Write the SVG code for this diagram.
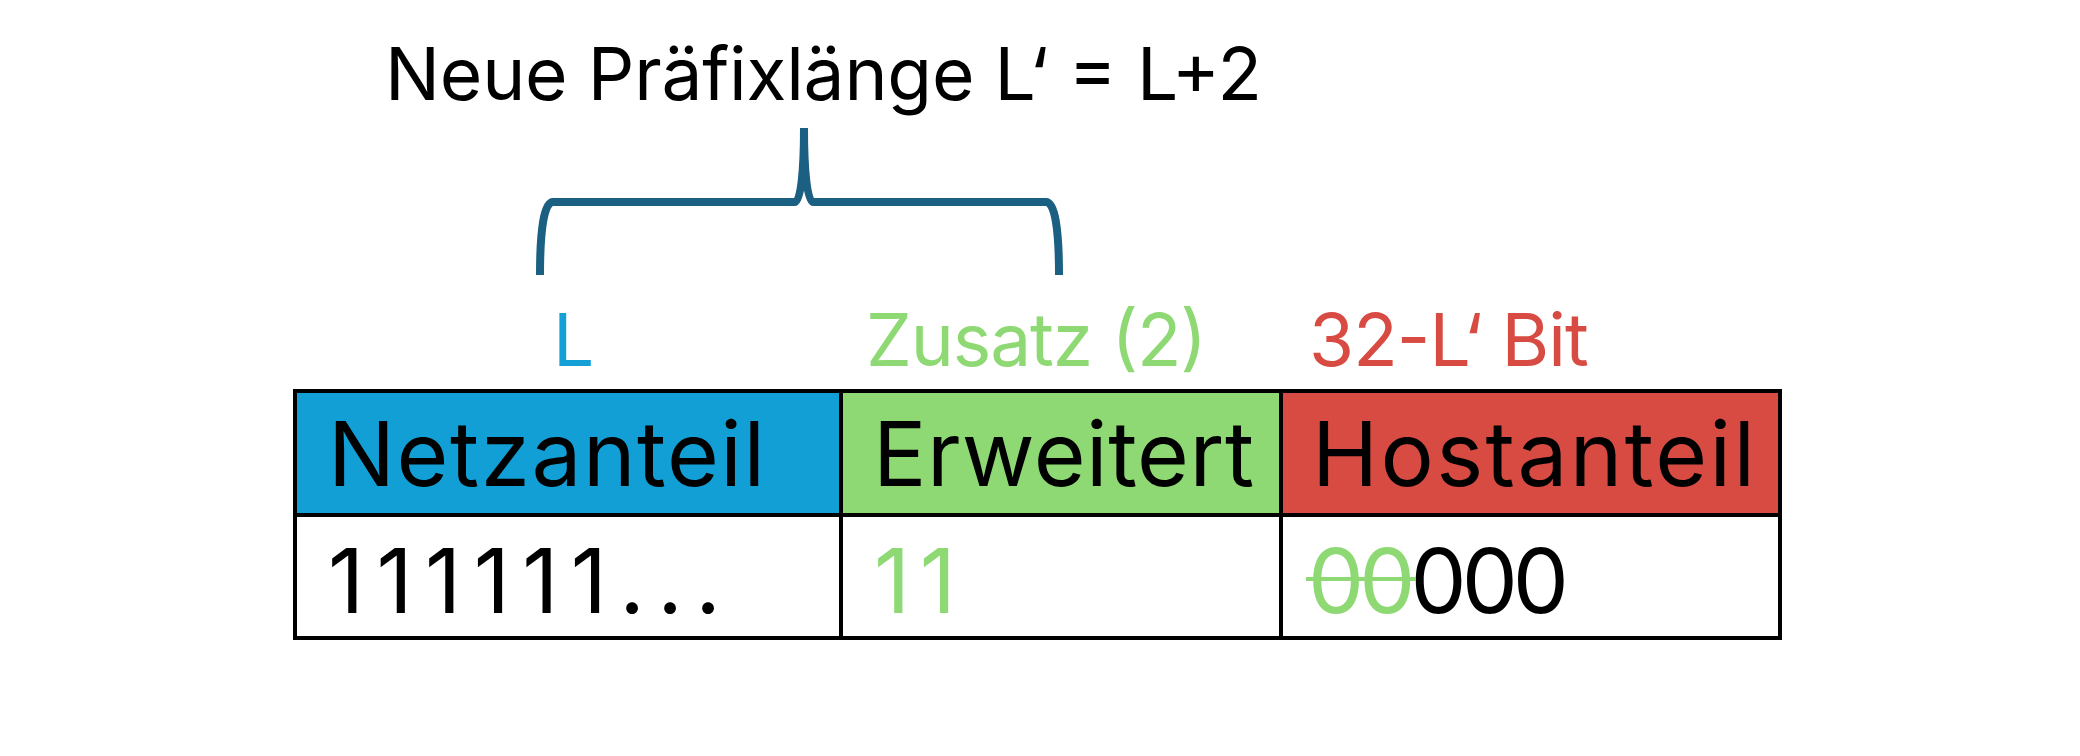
<svg xmlns="http://www.w3.org/2000/svg" width="2080" height="756" viewBox="0 0 2080 756">
<style>
.t{font-family:Inter,"Liberation Sans",sans-serif;}
.lbl{font-size:73px;}
.big{font-size:89px;}
.brace{fill:none;stroke:#1B5F82;stroke-width:8;stroke-linecap:butt;stroke-linejoin:round;}
.cell{stroke:#000;stroke-width:4;}
</style>
<rect width="2080" height="756" fill="#fff"/>
<g id="title">
<text class="t lbl" x="385" y="100" fill="#000" textLength="877" lengthAdjust="spacing">Neue Präfixlänge L‘ = L+2</text>
</g>
<g id="connectors">
<path class="brace" d="M540,275 C540,230 544,202 553,202 L795,202 C801,202 804,170 804,128"/>
<path class="brace" d="M1059,275 C1059,230 1055,202 1046,202 L813,202 C807,202 804,170 804,128"/>
</g>
<g id="labels">
<text class="t lbl" x="553" y="366" fill="#149FD6">L</text>
<text class="t lbl" x="866" y="366" fill="#8ED973" textLength="341" lengthAdjust="spacing">Zusatz (2)</text>
<text class="t lbl" x="1309" y="366" fill="#D84B42" textLength="280" lengthAdjust="spacing">32-L‘ Bit</text>
</g>
<g id="netzanteil">
<rect class="cell" x="295" y="391" width="546" height="124" fill="#129FD6"/>
<text class="t big" x="328" y="486" fill="#000" textLength="437" lengthAdjust="spacing">Netzanteil</text>
</g>
<g id="erweitert">
<rect class="cell" x="841" y="391" width="440" height="124" fill="#8ED973"/>
<text class="t big" x="873" y="486" fill="#000" textLength="381" lengthAdjust="spacing">Erweitert</text>
</g>
<g id="hostanteil">
<rect class="cell" x="1281" y="391" width="499" height="124" fill="#D84B42"/>
<text class="t big" x="1312" y="486" fill="#000" textLength="443" lengthAdjust="spacing">Hostanteil</text>
</g>
<g id="netz-bits">
<rect class="cell" x="295" y="515" width="546" height="123" fill="#fff"/>
<text class="t big" x="328" y="613" fill="#000" textLength="393" lengthAdjust="spacing">111111...</text>
</g>
<g id="erw-bits">
<rect class="cell" x="841" y="515" width="440" height="123" fill="#fff"/>
<text class="t big" x="874" y="613" fill="#8ED973" textLength="82" lengthAdjust="spacing">11</text>
</g>
<g id="host-bits">
<rect class="cell" x="1281" y="515" width="499" height="123" fill="#fff"/>
<text class="t big" x="1308" y="613" fill="#000" textLength="261" lengthAdjust="spacing"><tspan fill="#8ED973">00</tspan>000</text>
<line x1="1306" y1="579" x2="1416" y2="579" stroke="#8ED973" stroke-width="4"/>
</g>
</svg>
